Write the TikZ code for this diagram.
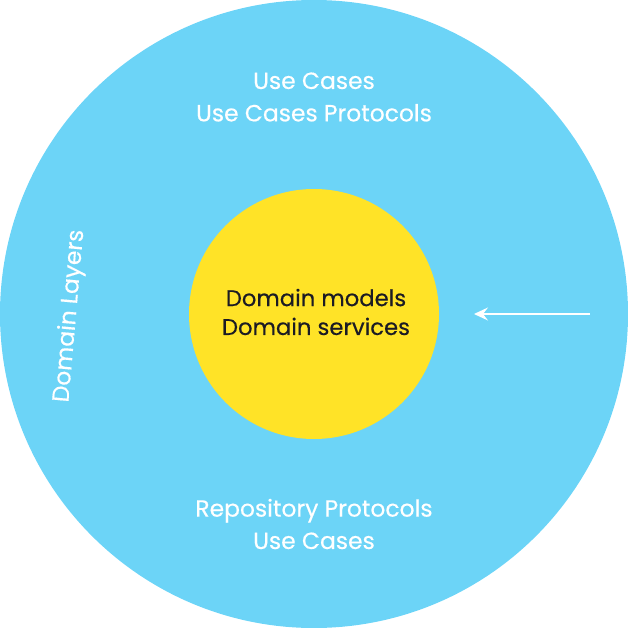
\documentclass[tikz,border=0pt]{standalone}
\usepackage{fontspec}
\setmainfont{Poppins}[FakeBold=0.4]
\usetikzlibrary{arrows.meta}
\definecolor{outerblue}{HTML}{6CD4F7}
\definecolor{coreyellow}{HTML}{FFE327}
\definecolor{darktext}{HTML}{1B1B24}
\tikzset{
  whitelbl/.style={text=white, font=\fontsize{23.5}{32.5}\selectfont, align=center},
  darklbl/.style={text=darktext, font=\fontsize{22.8}{29}\selectfont, align=center},
  arrowline/.style={draw=white, line width=1.6bp, -{Stealth[length=14bp,width=13bp,inset=5bp]}}
}
\begin{document}
\begin{tikzpicture}[x=1bp,y=-1bp]
\useasboundingbox (0,0) rectangle (628,628);
\fill[outerblue] (314,314) circle[radius=314];
\fill[coreyellow] (314,314) circle[radius=125];
\node[whitelbl] (top) at (314,97) {Use Cases\\Use Cases Protocols};
\node[whitelbl] (bottom) at (314,524) {Repository Protocols\\Use Cases};
\node[darklbl] (core) at (316,312) {Domain models\\Domain services};
\node[whitelbl, rotate=85] (side) at (70,316) {Domain Layers};
\coordinate (astart) at (590,314);
\coordinate (aend) at (474,314);
\draw[arrowline] (astart) -- (aend);
\end{tikzpicture}
\end{document}
